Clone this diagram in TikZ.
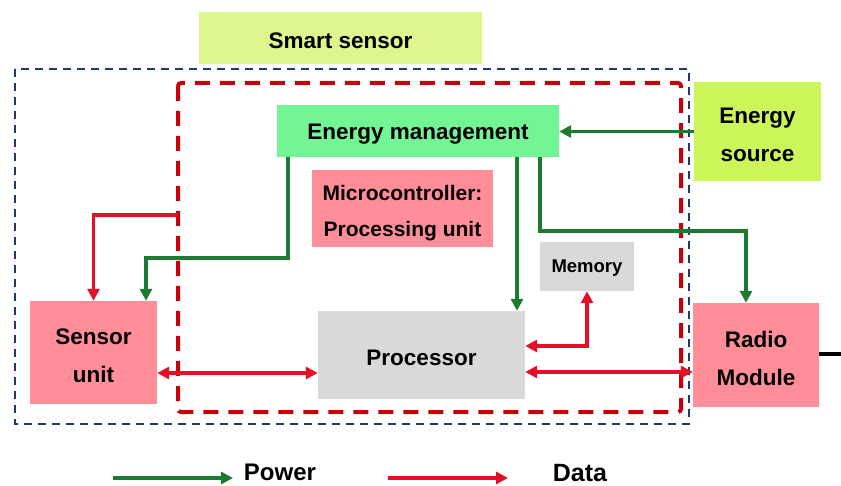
\documentclass[tikz,border=0pt]{standalone}
\usepackage{fontspec}
\setmainfont{Liberation Sans}
\usetikzlibrary{arrows.meta,calc}
\definecolor{smartc}{HTML}{DDF78E}
\definecolor{esrcc}{HTML}{CCF559}
\definecolor{emc}{HTML}{73F495}
\definecolor{pinkc}{HTML}{FF8E99}
\definecolor{grayc}{HTML}{D9D9D9}
\definecolor{navyc}{HTML}{1F3A6E}
\definecolor{dredc}{HTML}{C8000A}
\definecolor{pwc}{HTML}{1C7A32}
\definecolor{dtc}{HTML}{E4102A}
\tikzset{
  box/.style={draw=none, inner sep=0pt},
  lbl/.style={inner sep=0pt, align=center, yshift=-3pt, font=\bfseries\fontsize{22.5}{38}\selectfont},
  pw/.style={draw=pwc, line width=3.5pt, -{Triangle[length=12pt,width=12pt]}},
  dt/.style={draw=dtc, line width=3.5pt, -{Triangle[length=12pt,width=12pt]}},
  dtb/.style={draw=dtc, line width=3.5pt, {Triangle[length=12pt,width=12pt]}-{Triangle[length=12pt,width=12pt]}},
  outerdash/.style={draw=navyc, line width=2.2pt, dash pattern=on 8pt off 6pt},
  innerdash/.style={draw=dredc, line width=4pt, dash pattern=on 15pt off 10pt, rounded corners=3pt},
  legtext/.style={inner sep=0pt, font=\bfseries\fontsize{24}{28}\selectfont}
}
\begin{document}
\begin{tikzpicture}[x=1pt,y=-1pt]
\useasboundingbox (0,0) rectangle (841,486);
% dashed frames
\draw[outerdash] (15,69) rectangle (689,424);
\draw[innerdash] (178,83) rectangle (681,412);
% nodes
\node[box, fill=smartc, minimum width=283pt, minimum height=52pt] (smart) at (340.5,38) {};
\node[lbl] (smart-t) at (smart.center) {Smart sensor};
\node[box, fill=emc, minimum width=282pt, minimum height=52pt] (em) at (418,131) {};
\node[lbl] (em-t) at (em.center) {Energy management};
\node[box, fill=pinkc, minimum width=181pt, minimum height=77pt] (micro) at (402.5,208.5) {};
\node[lbl, yshift=-1.5pt, font=\bfseries\fontsize{21}{36.5}\selectfont] (micro-t) at (micro.center) {Microcontroller:\\Processing unit};
\node[box, fill=esrcc, minimum width=127pt, minimum height=99pt] (esrc) at (757.5,131.5) {};
\node[lbl] (esrc-t) at (esrc.center) {Energy\\source};
\node[box, fill=grayc, minimum width=94pt, minimum height=49pt] (mem) at (587,266.5) {};
\node[lbl, yshift=1pt, font=\bfseries\fontsize{18.5}{22}\selectfont] (mem-t) at (mem.center) {Memory};
\node[box, fill=grayc, minimum width=207pt, minimum height=88pt] (proc) at (421.5,355) {};
\node[lbl] (proc-t) at (proc.center) {Processor};
\node[box, fill=pinkc, minimum width=127pt, minimum height=103pt] (sens) at (93.5,352.5) {};
\node[lbl] (sens-t) at (sens.center) {Sensor\\unit};
\node[box, fill=pinkc, minimum width=126pt, minimum height=104pt] (radio) at (756,355) {};
\node[lbl] (radio-t) at (radio.center) {Radio\\Module};
% connectors
\draw[pw] (esrc.west) -- (esrc.west -| em.east);
\draw[pw] ([xshift=-130pt]em.south) -- ++(0,101) -| ([xshift=52.5pt]sens.north);
\coordinate (r0) at (178,215);
\draw[dt] (r0) -| (sens.north);
\draw[pw] ([xshift=99pt]em.south) -- ([xshift=99pt]em.south |- proc.north);
\draw[pw] ([xshift=122pt]em.south) -- ++(0,74) -| ([xshift=-10pt]radio.north);
\draw[dtb] ([yshift=9pt]proc.east) -| (mem.south);
\draw[dtb] ([yshift=-20.5pt]sens.east) -- ([yshift=-20.5pt]sens.east -| proc.west);
\draw[dtb] ([yshift=-17pt]proc.east) -- ([yshift=-17pt]proc.east -| radio.west);
\coordinate (bl) at (841,354);
\draw[line width=3.5pt] (radio.east |- bl) -- (bl);
% legend
\coordinate (lp1) at (113,478);
\coordinate (lp2) at (233,478);
\coordinate (ld1) at (388,478);
\coordinate (ld2) at (508,478);
\draw[pw] (lp1) -- (lp2);
\draw[dt] (ld1) -- (ld2);
\node[legtext] (power) at (280,472) {Power};
\node[legtext, font=\bfseries\fontsize{25}{28}\selectfont] (data) at (580,473) {Data};
\end{tikzpicture}
\end{document}
